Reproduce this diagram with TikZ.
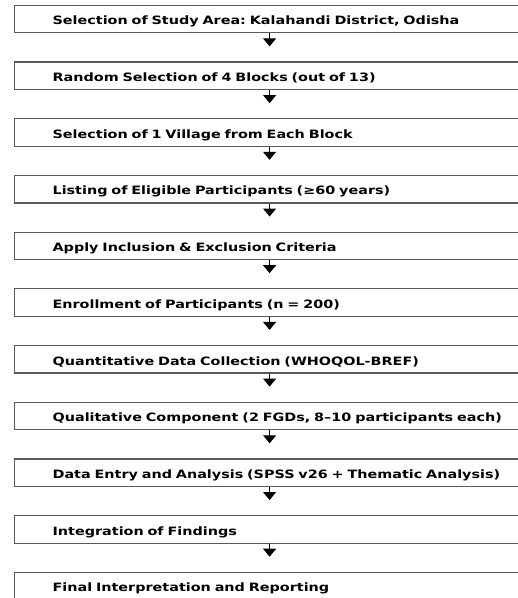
\documentclass[tikz,border=0pt]{standalone}
\usepackage{fontspec}
\setsansfont{DejaVu Sans}
\newfontfamily\stagefont{DejaVu Sans Bold}[FakeStretch=1.25]
\usetikzlibrary{positioning,arrows.meta}
\frenchspacing

\tikzset{
  stage/.style={draw=black!65, line width=1.2pt, minimum width=510pt,
    minimum height=27.5pt, inner xsep=0pt, inner ysep=2pt, text width=500pt,
    text height=11.5pt, text depth=0pt,
    align=left, font=\stagefont\fontsize{11.5}{13}\selectfont,
    execute at begin node=\hspace*{33pt}},
  flow/.style={-{Triangle[width=13pt,length=8pt]}, line width=1pt,
    shorten >=15pt}
}

\begin{document}
\begin{tikzpicture}[node distance=28pt]
  \useasboundingbox (0,0) rectangle (518pt,-598pt);
  \clip (0,0) rectangle (518pt,-598pt);

  \node[stage, anchor=north west] (area) at (14pt,-4.7pt)
    {Selection of Study Area: Kalahandi District, Odisha};
  \node[stage, below=of area] (blocks)
    {Random Selection of 4 Blocks (out of 13)};
  \node[stage, below=of blocks] (village)
    {Selection of 1 Village from Each Block};
  \node[stage, below=of village] (listing)
    {Listing of Eligible Participants (≥60 years)};
  \node[stage, below=of listing] (criteria)
    {Apply Inclusion \& Exclusion Criteria};
  \node[stage, below=of criteria] (enroll)
    {Enrollment of Participants (n = 200)};
  \node[stage, below=of enroll] (quant)
    {Quantitative Data Collection (WHOQOL-BREF)};
  \node[stage, below=of quant] (qual)
    {Qualitative Component (2 FGDs, 8–10 participants each)};
  \node[stage, below=of qual] (analysis)
    {Data Entry and Analysis (SPSS v26 + Thematic Analysis)};
  \node[stage, below=of analysis] (integ)
    {Integration of Findings};
  \node[stage, below=of integ] (final)
    {Final Interpretation and Reporting};

  \draw[flow] (area) -- (blocks);
  \draw[flow] (blocks) -- (village);
  \draw[flow] (village) -- (listing);
  \draw[flow] (listing) -- (criteria);
  \draw[flow] (criteria) -- (enroll);
  \draw[flow] (enroll) -- (quant);
  \draw[flow] (quant) -- (qual);
  \draw[flow] (qual) -- (analysis);
  \draw[flow] (analysis) -- (integ);
  \draw[flow] (integ) -- (final);
\end{tikzpicture}
\end{document}
